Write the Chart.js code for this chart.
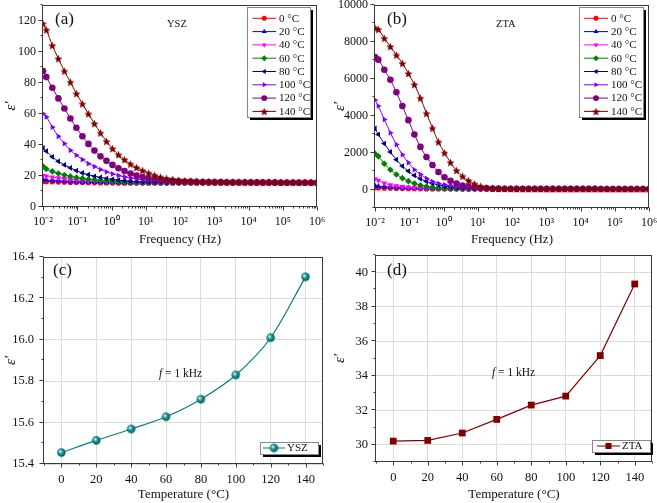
<!DOCTYPE html>
<html>
<head>
<meta charset="utf-8">
<script src="https://cdn.jsdelivr.net/npm/chart.js@4.4.0/dist/chart.umd.min.js"></script>
<style>
    body { margin: 0; background: #fff; }
    #wrap { position: relative; width: 657px; height: 503px; }
    #wrap canvas { position: absolute; }
</style>
</head>
<body>
<div id="wrap">
    <canvas id="chartA" width="327" height="250" style="left:0;top:0"></canvas>
    <canvas id="chartB" width="330" height="250" style="left:327px;top:0"></canvas>
    <canvas id="chartC" width="327" height="251" style="left:0;top:252px"></canvas>
    <canvas id="chartD" width="330" height="251" style="left:327px;top:252px"></canvas>
</div>
<script>
// measured frequencies (Hz)
const freqHz = [0.01, 0.0125, 0.0187, 0.0281, 0.0421, 0.063, 0.0944, 0.1415, 0.212, 0.318,
    0.476, 0.713, 1.07, 1.6, 2.4, 3.59, 5.38, 8.07, 12.1, 18.1,
    27.1, 40.6, 60.9, 91.2, 137, 205, 307, 460, 689, 1030,
    1550, 2320, 3470, 5200, 7800, 11700, 17500, 26200, 39300, 58900,
    88100, 132000, 198000, 297000, 445000, 666000, 1000000];

const tempLabels = ["0 °C", "20 °C", "40 °C", "60 °C", "80 °C", "100 °C", "120 °C", "140 °C"];
const tempC = [0, 20, 40, 60, 80, 100, 120, 140];

// (a) YSZ permittivity vs frequency
const ysz0 = [16.5, 16.4, 16.3, 16.2, 16.1, 16.0, 15.9, 15.8, 15.75, 15.7, 15.65, 15.6, 15.55, 15.52, 15.5, 15.48, 15.47, 15.465, 15.46, 15.46,
    15.455, 15.455, 15.455, 15.45, 15.45, 15.45, 15.45, 15.45, 15.45, 15.45,
    15.44, 15.44, 15.43, 15.43, 15.42, 15.42, 15.41, 15.41, 15.4, 15.4, 15.39, 15.39, 15.38, 15.38, 15.37, 15.37, 15.36];
const ysz20 = [17.6, 17.3, 17.0, 16.8, 16.6, 16.4, 16.2, 16.1, 16.0, 15.9, 15.8, 15.75, 15.7, 15.65, 15.6, 15.58, 15.56, 15.55, 15.54, 15.53,
    15.525, 15.52, 15.52, 15.515, 15.515, 15.512, 15.512, 15.51, 15.51, 15.51,
    15.5, 15.5, 15.49, 15.49, 15.48, 15.48, 15.47, 15.47, 15.46, 15.46, 15.45, 15.45, 15.44, 15.44, 15.43, 15.43, 15.42];
const ysz40 = [20.4, 19.8, 19.2, 18.7, 18.2, 17.8, 17.4, 17.1, 16.8, 16.6, 16.4, 16.2, 16.0, 15.9, 15.8, 15.75, 15.7, 15.66, 15.63, 15.61,
    15.6, 15.59, 15.58, 15.58, 15.57, 15.57, 15.57, 15.566, 15.566, 15.565,
    15.56, 15.55, 15.55, 15.54, 15.54, 15.53, 15.53, 15.52, 15.52, 15.51, 15.51, 15.5, 15.5, 15.5, 15.49, 15.49, 15.48];
const ysz60 = [26.2, 24.5, 22.9, 21.6, 20.6, 19.7, 19.0, 18.4, 17.9, 17.5, 17.1, 16.8, 16.5, 16.3, 16.1, 16.0, 15.9, 15.82, 15.76, 15.72,
    15.69, 15.67, 15.66, 15.65, 15.64, 15.64, 15.635, 15.63, 15.63, 15.627,
    15.62, 15.61, 15.6, 15.6, 15.59, 15.58, 15.58, 15.57, 15.57, 15.56, 15.56, 15.55, 15.55, 15.54, 15.54, 15.53, 15.53];
const ysz80 = [38, 35.9, 32.3, 29.4, 27.1, 25.2, 23.4, 21.9, 20.8, 19.8, 19.0, 18.3, 17.8, 17.3, 16.9, 16.6, 16.4, 16.2, 16.1, 16.0,
    15.95, 15.9, 15.85, 15.8, 15.77, 15.75, 15.73, 15.72, 15.715, 15.71,
    15.7, 15.69, 15.68, 15.67, 15.66, 15.65, 15.64, 15.63, 15.62, 15.61, 15.6, 15.6, 15.59, 15.59, 15.58, 15.58, 15.57];
const ysz100 = [60, 58, 51.4, 45.5, 40.8, 36.5, 33.3, 30.5, 27.9, 26.0, 24.1, 22.6, 21.3, 20.2, 19.4, 18.6, 18.0, 17.5, 17.1, 16.8,
    16.5, 16.3, 16.2, 16.1, 16.0, 15.95, 15.9, 15.87, 15.85, 15.83,
    15.81, 15.8, 15.79, 15.78, 15.77, 15.76, 15.75, 15.74, 15.73, 15.72, 15.71, 15.7, 15.69, 15.68, 15.67, 15.66, 15.65];
const ysz120 = [87.5, 83.6, 76.7, 69.9, 63.4, 57, 51, 45.5, 40.6, 36.3, 32.6, 29.7, 27.1, 24.9, 23.2, 21.5, 20.2, 19.3, 18.5, 18.0,
    17.5, 17.1, 16.8, 16.6, 16.4, 16.3, 16.2, 16.1, 16.05, 16.01,
    15.98, 15.95, 15.93, 15.91, 15.89, 15.87, 15.85, 15.84, 15.83, 15.82, 15.81, 15.8, 15.79, 15.78, 15.77, 15.76, 15.75];
const ysz140 = [118, 114, 104, 95.5, 87.5, 80.4, 73, 66.4, 60, 53.7, 47.7, 42.3, 37.6, 33.7, 30.5, 27.7, 25.5, 23.6, 21.9, 20.5,
    19.3, 18.4, 17.8, 17.3, 17.0, 16.8, 16.6, 16.45, 16.37, 16.3,
    16.25, 16.2, 16.16, 16.12, 16.08, 16.05, 16.02, 16.0, 15.97, 15.95, 15.93, 15.91, 15.89, 15.87, 15.86, 15.85, 15.84];

// (b) ZTA permittivity vs frequency
const zta0 = [110, 100, 90, 80, 72, 65, 59, 54, 50, 47, 44, 42, 40, 38.5, 37, 36, 35, 34.2, 33.5, 32.9,
    32.4, 32, 31.6, 31.3, 31.0, 30.8, 30.6, 30.45, 30.3, 30.21,
    30.15, 30.1, 30.05, 30.0, 29.95, 29.9, 29.85, 29.8, 29.75, 29.7, 29.65, 29.6, 29.55, 29.5, 29.45, 29.4, 29.35];
const zta20 = [200, 170, 145, 125, 108, 95, 83, 73, 65, 58, 53, 48, 45, 42, 40, 38, 36.5, 35.3, 34.3, 33.5,
    32.8, 32.2, 31.7, 31.3, 31.0, 30.8, 30.6, 30.45, 30.35, 30.25,
    30.2, 30.15, 30.1, 30.05, 30.0, 29.95, 29.9, 29.85, 29.8, 29.75, 29.7, 29.65, 29.6, 29.55, 29.5, 29.45, 29.4];
const zta40 = [582, 491, 345, 255, 200, 160, 125, 100, 82, 70, 60, 53, 47, 43, 40, 38, 36.5, 35.3, 34.3, 33.6,
    33, 32.5, 32.1, 31.8, 31.5, 31.3, 31.1, 30.95, 30.8, 30.7,
    30.65, 30.6, 30.55, 30.5, 30.45, 30.4, 30.35, 30.3, 30.25, 30.2, 30.15, 30.1, 30.05, 30.0, 29.95, 29.9, 29.85];
const zta60 = [1945, 1800, 1400, 1073, 818, 618, 455, 327, 236, 164, 120, 90, 70, 56, 48, 42, 38.5, 36.5, 35, 34,
    33.3, 32.8, 32.4, 32.1, 31.9, 31.75, 31.6, 31.5, 31.48, 31.47,
    31.4, 31.3, 31.2, 31.15, 31.1, 31.05, 31.0, 30.95, 30.9, 30.85, 30.8, 30.75, 30.7, 30.65, 30.6, 30.55, 30.5];
const zta80 = [3309, 2982, 2491, 2036, 1618, 1273, 1000, 764, 582, 436, 327, 255, 182, 140, 105, 82, 66, 55, 48, 43,
    40, 38, 36, 35, 34.2, 33.6, 33.2, 32.9, 32.6, 32.3,
    32.15, 32.0, 31.9, 31.8, 31.7, 31.6, 31.5, 31.45, 31.4, 31.35, 31.3, 31.25, 31.2, 31.15, 31.1, 31.05, 31.0];
const zta100 = [4855, 4527, 3800, 3073, 2436, 1891, 1455, 1073, 818, 600, 436, 327, 255, 200, 150, 115, 90, 72, 60, 52,
    47, 43, 40, 38, 36.5, 35.3, 34.5, 33.9, 33.3, 32.82,
    32.6, 32.4, 32.25, 32.1, 32.0, 31.9, 31.8, 31.7, 31.6, 31.55, 31.5, 31.45, 31.4, 31.35, 31.3, 31.25, 31.2];
const zta120 = [7180, 7040, 6490, 5950, 5270, 4530, 3760, 2980, 2310, 1760, 1330, 950, 670, 470, 330, 220, 160, 115, 85, 65,
    55, 48, 44, 41, 39, 37.5, 36.5, 35.8, 35.4, 35.2,
    34.9, 34.6, 34.4, 34.2, 34.0, 33.9, 33.8, 33.7, 33.6, 33.5, 33.4, 33.3, 33.2, 33.1, 33.0, 32.9, 32.8];
const zta140 = [8760, 8680, 8200, 7750, 7290, 6840, 6290, 5690, 4960, 4130, 3330, 2580, 1990, 1470, 1036, 727, 491, 309, 182, 109,
    75, 58, 50, 46, 44, 42.5, 41.5, 40.5, 40, 39.3,
    38.7, 38.2, 37.8, 37.5, 37.2, 37, 36.8, 36.6, 36.5, 36.4, 36.3, 36.2, 36.1, 36.0, 35.9, 35.8, 35.7];

// (c), (d) permittivity at 1 kHz
const yszAt1kHz = [15.455, 15.514, 15.569, 15.628, 15.713, 15.830, 16.010, 16.304];
const ztaAt1kHz = [30.21, 30.25, 30.68, 31.47, 32.30, 32.82, 35.17, 39.32];

const serif = "'Liberation Serif', 'Times New Roman', serif";
const seriesColors = ["#ff0000", "#0000ff", "#ff00ff", "#008000", "#000080", "#8000ff", "#800080", "#800000"];

// filled five point star, Chart.js has no such pointStyle
function makeStar(color, r) {
    let c = document.createElement("canvas");
    let s = Math.ceil(r * 2) + 2;
    c.width = s; c.height = s;
    let g = c.getContext("2d");
    g.fillStyle = color;
    g.beginPath();
    for (let i = 0; i < 10; i++) {
        let rr = i % 2 ? r * 0.45 : r;
        let a = -Math.PI / 2 + i * Math.PI / 5;
        g.lineTo(s / 2 + rr * Math.cos(a), s / 2 + 0.5 + rr * Math.sin(a));
    }
    g.closePath();
    g.fill();
    return c;
}

// shaded ball marker for panel (c)
function makeBall(r) {
    let c = document.createElement("canvas");
    let s = Math.ceil(r * 2) + 2;
    c.width = s; c.height = s;
    let g = c.getContext("2d");
    let grad = g.createRadialGradient(s / 2 - r * 0.35, s / 2 - r * 0.35, r * 0.1, s / 2, s / 2, r);
    grad.addColorStop(0, "#d8ffff");
    grad.addColorStop(0.4, "#1fa3a3");
    grad.addColorStop(1, "#005050");
    g.fillStyle = grad;
    g.beginPath();
    g.arc(s / 2, s / 2, r, 0, Math.PI * 2);
    g.fill();
    return c;
}

const markerStyles = ["circle", "triangle", "triangle", "rectRot", "triangle", "triangle", "circle", makeStar("#800000", 4.3)];
const markerRotations = [0, 0, 180, 0, 270, 90, 0, 0];
const markerSizes = [2.8, 3.3, 3.3, 3.3, 3.3, 3.3, 3.3, 4];

const supDigits = { "-": "⁻", "0": "⁰", "1": "¹", "2": "²", "3": "³", "4": "⁴", "5": "⁵", "6": "⁶", "7": "⁷", "8": "⁸", "9": "⁹" };
function sup(n) {
    return String(n).split("").map(c => supDigits[c]).join("");
}

function isDecade(v) {
    let e = Math.log10(v);
    return Math.abs(e - Math.round(e)) < 1e-9;
}

// frame, tick marks, legend box and notes
const decor = {
    id: "decor",
    afterDraw(chart, args, opts) {
        let ctx = chart.ctx;
        let a = chart.chartArea;
        ctx.save();
        ctx.strokeStyle = "#3a3a3a";
        ctx.lineWidth = 1;
        let l = Math.round(a.left) - 0.5, t = Math.round(a.top) + 0.5;
        let r = Math.round(a.right) - 0.5, b = Math.round(a.bottom) - 0.5;
        ctx.strokeRect(l, t, r - l, b - t);

        ["x", "y"].forEach(id => {
            let s = chart.scales[id];
            s.ticks.forEach((tk, i) => {
                let len = tk.label ? 4 : 2;
                let p = Math.round(s.getPixelForTick(i)) + 0.5;
                ctx.beginPath();
                if (id === "x") {
                    ctx.moveTo(p, b); ctx.lineTo(p, b + len);
                } else {
                    p -= 1;
                    ctx.moveTo(l, p); ctx.lineTo(l - len, p);
                }
                ctx.stroke();
            });
        });

        let L = opts.legend;
        if (L) {
            ctx.fillStyle = "#000";
            ctx.fillRect(L.x + 3, L.y + 3, L.w, L.h);
            ctx.fillStyle = "#fff";
            ctx.fillRect(L.x, L.y, L.w, L.h);
            ctx.strokeStyle = "#888";
            ctx.strokeRect(L.x + 0.5, L.y + 0.5, L.w, L.h);
            chart.data.datasets.forEach((ds, i) => {
                let cy = L.y + L.first + i * L.row;
                ctx.strokeStyle = ds.borderColor;
                ctx.lineWidth = 1;
                ctx.beginPath();
                ctx.moveTo(L.x + L.line0, cy);
                ctx.lineTo(L.x + L.line1, cy);
                ctx.stroke();
                ctx.fillStyle = ds.backgroundColor;
                Chart.helpers.drawPoint(ctx, {
                    pointStyle: ds.pointStyle,
                    rotation: ds.pointRotation || 0,
                    radius: ds.pointRadius * 0.9,
                    borderWidth: 0
                }, L.x + (L.line0 + L.line1) / 2, cy);
                ctx.fillStyle = "#111";
                ctx.font = L.font;
                ctx.textBaseline = "middle";
                ctx.textAlign = "left";
                ctx.fillText(ds.label, L.x + L.text, cy + 0.5);
            });
        }

        (opts.notes || []).forEach(n => {
            let x = n.x;
            ctx.fillStyle = "#111";
            ctx.textBaseline = "alphabetic";
            ctx.textAlign = "left";
            n.parts.forEach(p => {
                ctx.font = p.font;
                ctx.fillText(p.text, x, n.y);
                x += ctx.measureText(p.text).width;
            });
        });
        ctx.restore();
    }
};

function freqDatasets(seriesList) {
    return seriesList.map((vals, i) => ({
        label: tempLabels[i],
        data: freqHz.map((f, j) => ({ x: f, y: vals[j] })),
        borderColor: seriesColors[i],
        backgroundColor: seriesColors[i],
        pointStyle: markerStyles[i],
        pointRotation: markerRotations[i],
        pointRadius: markerSizes[i],
        pointBorderWidth: 0,
        borderWidth: 1,
        cubicInterpolationMode: "monotone",
        order: 7 - i
    }));
}

function freqAxis(height) {
    let decades = [];
    for (let e = -2; e <= 6; e++) {
        for (let m = 1; m <= 9; m++) {
            if (e === 6 && m > 1) break;
            decades.push({ value: m * Math.pow(10, e) });
        }
    }
    return {
        type: "logarithmic",
        min: 0.01,
        max: 1e6,
        afterBuildTicks: s => { s.ticks = decades.map(t => ({ value: t.value })); },
        ticks: {
            autoSkip: false, maxRotation: 0, padding: 8, color: "#111",
            font: { family: serif, size: 12 },
            callback: v => isDecade(v) ? "10" + sup(Math.round(Math.log10(v))) : ""
        },
        grid: { drawOnChartArea: false, drawTicks: false },
        border: { display: false },
        title: { display: true, text: "Frequency (Hz)", color: "#111", font: { family: serif, size: 13 }, padding: { top: 0, bottom: 3 } },
        afterFit: s => { s.height = height; s.paddingLeft = 0; s.paddingRight = 0; }
    };
}

function isMajor(v, step, majorEvery) {
    let n = Math.round(v / step);
    return ((n % majorEvery) + majorEvery) % majorEvery === 0;
}

function valueAxis(min, max, step, majorEvery, width, titlePad, grid, tickPad, fontSize) {
    return {
        type: "linear",
        min: min,
        max: max,
        afterBuildTicks: s => {
            let t = [];
            for (let v = min; v <= max + step / 2; v += step) t.push({ value: Math.round(v * 1000) / 1000 });
            s.ticks = t;
        },
        ticks: {
            autoSkip: false, padding: tickPad, color: "#111",
            font: { family: serif, size: fontSize },
            callback: v => isMajor(v, step, majorEvery) ? String(step < 1 ? v.toFixed(1) : v) : ""
        },
        grid: {
            drawTicks: false,
            drawOnChartArea: !!grid,
            color: ctx => (ctx.tick && isMajor(ctx.tick.value, step, majorEvery) ? "#dcdcdc" : "rgba(0,0,0,0)")
        },
        border: { display: false },
        title: { display: true, text: "ε′", color: "#111", font: { family: serif, size: 15, style: "italic" }, padding: { top: titlePad, bottom: 0 } },
        afterFit: s => { s.width = width; s.paddingTop = 0; s.paddingBottom = 0; }
    };
}

function tempAxis(height, titlePad) {
    return {
        type: "linear",
        min: -10,
        max: 150,
        afterBuildTicks: s => {
            let t = [];
            for (let v = -10; v <= 150; v += 10) t.push({ value: v });
            s.ticks = t;
        },
        ticks: {
            autoSkip: false, maxRotation: 0, padding: 8, color: "#111",
            font: { family: serif, size: 12.5 },
            callback: v => (v >= 0 && v <= 140 && v % 20 === 0 ? String(v) : "")
        },
        grid: {
            drawTicks: false,
            color: ctx => (ctx.tick && ctx.tick.value >= 0 && ctx.tick.value <= 140 && ctx.tick.value % 20 === 0 ? "#dcdcdc" : "rgba(0,0,0,0)")
        },
        border: { display: false },
        title: { display: true, text: "Temperature (°C)", color: "#111", font: { family: serif, size: 13 }, padding: { top: 0, bottom: titlePad } },
        afterFit: s => { s.height = height; s.paddingLeft = 0; s.paddingRight = 0; }
    };
}

function baseOptions(pad, scales, decorOpts) {
    return {
        responsive: false,
        animation: false,
        events: [],
        layout: { padding: pad, autoPadding: false },
        plugins: { legend: { display: false }, tooltip: { enabled: false }, decor: decorOpts },
        scales: scales
    };
}

function notesFor(tag, tagX, name, nameX) {
    return [
        { x: tagX, y: 24, parts: [{ text: tag, font: "17px " + serif }] },
        { x: nameX, y: 27, parts: [{ text: name, font: "10.5px " + serif }] }
    ];
}

function fNote(x, y) {
    return { x: x, y: y, parts: [{ text: "f", font: "italic 11.5px " + serif }, { text: " = 1 kHz", font: "11.5px " + serif }] };
}

document.addEventListener("DOMContentLoaded", function() {
    new Chart(document.getElementById("chartA"), {
        type: "line",
        data: { datasets: freqDatasets([ysz0, ysz20, ysz40, ysz60, ysz80, ysz100, ysz120, ysz140]) },
        options: baseOptions({ top: 5, right: 10, left: 0, bottom: 0 }, {
            x: freqAxis(43),
            y: valueAxis(0, 130, 10, 2, 43, 2, false, 7, 12)
        }, {
            legend: { x: 247, y: 7, w: 63, h: 110, first: 11.3, row: 13.3, line0: 5.5, line1: 29, text: 32, font: "11px " + serif },
            notes: notesFor("(a)", 55, "YSZ", 167)
        }),
        plugins: [decor]
    });

    new Chart(document.getElementById("chartB"), {
        type: "line",
        data: { datasets: freqDatasets([zta0, zta20, zta40, zta60, zta80, zta100, zta120, zta140]) },
        options: baseOptions({ top: 5, right: 8, left: 0, bottom: 0 }, {
            x: freqAxis(42),
            y: valueAxis(-1000, 10000, 1000, 2, 48, 4, false, 7, 12)
        }, {
            legend: { x: 252, y: 7, w: 64, h: 110, first: 11.3, row: 13.3, line0: 5, line1: 29, text: 32, font: "11px " + serif },
            notes: notesFor("(b)", 60, "ZTA", 169)
        }),
        plugins: [decor]
    });

    new Chart(document.getElementById("chartC"), {
        type: "line",
        data: {
            datasets: [{
                label: "YSZ",
                data: tempC.map((t, i) => ({ x: t, y: yszAt1kHz[i] })),
                borderColor: "#008080",
                backgroundColor: "#008080",
                pointStyle: makeBall(4.2),
                pointRadius: 4,
                borderWidth: 1.2,
                cubicInterpolationMode: "monotone"
            }]
        },
        options: baseOptions({ top: 5, right: 4, left: 0, bottom: 0 }, {
            x: tempAxis(39, 1),
            y: valueAxis(15.4, 16.4, 0.1, 2, 44, 2, true, 10, 12.5)
        }, {
            legend: { x: 260, y: 190, w: 58, h: 12, first: 6, row: 0, line0: 3, line1: 25, text: 27, font: "11px " + serif },
            notes: [
                { x: 53, y: 23, parts: [{ text: "(c)", font: "17px " + serif }] },
                fNote(159, 125)
            ]
        }),
        plugins: [decor]
    });

    new Chart(document.getElementById("chartD"), {
        type: "line",
        data: {
            datasets: [{
                label: "ZTA",
                data: tempC.map((t, i) => ({ x: t, y: ztaAt1kHz[i] })),
                borderColor: "#800000",
                backgroundColor: "#800000",
                pointStyle: "rect",
                pointRadius: 4.8,
                pointBorderWidth: 0,
                borderWidth: 1.2,
                tension: 0
            }]
        },
        options: baseOptions({ top: 3, right: 5, left: 0, bottom: 0 }, {
            x: tempAxis(41, 1),
            y: valueAxis(29, 41, 1, 2, 49, 4, true, 8, 12.5)
        }, {
            legend: { x: 265, y: 188, w: 58, h: 12, first: 6, row: 0, line0: 5, line1: 28, text: 30, font: "11px " + serif },
            notes: [
                { x: 60, y: 23, parts: [{ text: "(d)", font: "17px " + serif }] },
                fNote(165, 124)
            ]
        }),
        plugins: [decor]
    });
});
</script>
</body>
</html>
